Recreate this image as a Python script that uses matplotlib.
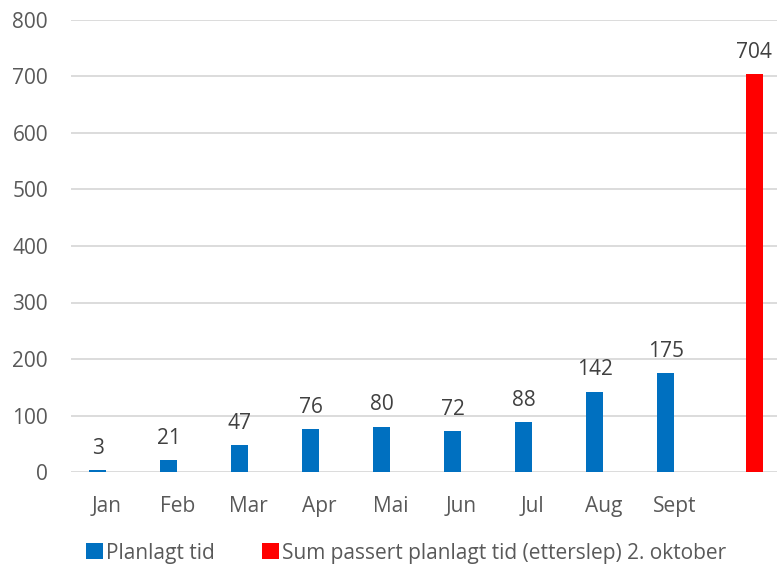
import matplotlib.pyplot as plt
import numpy as np

maaneder = ['Jan', 'Feb', 'Mar', 'Apr', 'Mai', 'Jun', 'Jul', 'Aug', 'Sept', '']
planlagt = [3, 21, 47, 76, 80, 72, 88, 142, 175, None]
etterslep = [None, None, None, None, None, None, None, None, None, 704]
y_ticks = [0, 100, 200, 300, 400, 500, 600, 700, 800]

plt.rcParams['font.family'] = ['Open Sans', 'DejaVu Sans']

fig = plt.figure(figsize=(7.77, 5.67), dpi=100)
ax = fig.add_axes([71 / 777, (567 - 472) / 567, 710 / 777, 452 / 567])

x = np.arange(len(maaneder))
w = 0.235
off = 0.125

blaa = '#0070c0'
roed = '#ff0000'
tekst = '#404040'
fs = 15

px = [i for i, v in enumerate(planlagt) if v is not None]
pv = [planlagt[i] for i in px]
ax.bar(np.array(px) - off, pv, width=w, color=blaa, label='Planlagt tid', zorder=3)

rx = [i for i, v in enumerate(etterslep) if v is not None]
rv = [etterslep[i] for i in rx]
ax.bar(np.array(rx) + off, rv, width=w, color=roed,
       label='Sum passert planlagt tid (etterslep) 2. oktober', zorder=3)

# datalabels
for i, v in zip(px, pv):
    ax.text(i - off, v + 20, str(v), ha='center', va='bottom', fontsize=fs, color=tekst)
for i, v in zip(rx, rv):
    ax.text(i + off, v + 20, str(v), ha='center', va='bottom', fontsize=fs, color=tekst)

ax.set_xlim(-0.5, len(maaneder) - 0.5)
ax.set_ylim(0, 800)
ax.set_yticks(y_ticks)
ax.set_xticks(x)
ax.set_xticklabels(maaneder)
ax.grid(axis='y', color='#d9d9d9', linewidth=1.3, zorder=0)
for s in ax.spines.values():
    s.set_visible(False)
ax.tick_params(length=0, labelsize=fs, labelcolor='#595959')
ax.tick_params(axis='y', pad=16.5)
ax.tick_params(axis='x', pad=17)

fig.legend(loc='center left', bbox_to_anchor=(86 / 777, 1 - 553 / 567), ncol=2, frameon=False,
           fontsize=fs, labelcolor='#595959', handlelength=0.8, handleheight=0.8,
           handletextpad=0.15, columnspacing=2.3, borderaxespad=0, borderpad=0)

fig.savefig('out.png', dpi=100)
